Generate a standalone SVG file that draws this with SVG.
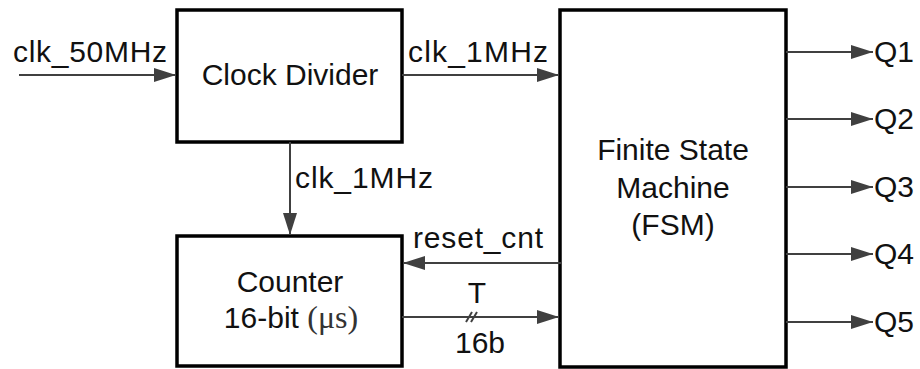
<svg xmlns="http://www.w3.org/2000/svg" width="920" height="369" viewBox="0 0 920 369">
<style>
.box{fill:#fff;stroke:#000;stroke-width:3.5}
.w{stroke:#404040;stroke-width:2;fill:none}
.t{font-family:"Liberation Sans",Arial,sans-serif;font-size:30px;fill:#111}
.m{text-anchor:middle}
.s{font-family:"Liberation Serif","Times New Roman",serif;font-size:32px;fill:#333}
</style>
<defs>
<marker id="ah" viewBox="0 0 22 14" refX="22" refY="7" markerWidth="22" markerHeight="14" markerUnits="userSpaceOnUse" orient="auto">
<path d="M0,0 L22,7 L0,14 Z" fill="#404040"/>
</marker>
</defs>
<rect width="920" height="369" fill="#fff"/>
<g id="clock_divider">
<rect class="box" x="177" y="10" width="225" height="132"/>
<text class="t m" x="290" y="85">Clock Divider</text>
</g>
<g id="counter">
<rect class="box" x="177" y="236" width="225" height="130"/>
<text class="t m" x="290" y="292">Counter</text>
<text class="t m" x="291" y="328">16-bit <tspan class="s">(μs)</tspan></text>
</g>
<g id="fsm">
<rect class="box" x="560" y="10" width="226" height="357"/>
<text class="t m" x="673" y="160">Finite State</text>
<text class="t m" x="673" y="198">Machine</text>
<text class="t m" x="673" y="235">(FSM)</text>
</g>
<g id="connectors">
<line class="w" x1="19" y1="75" x2="176" y2="75" marker-end="url(#ah)"/>
<text class="t" x="13" y="62" textLength="154">clk_50MHz</text>
<line class="w" x1="402" y1="75" x2="559" y2="75" marker-end="url(#ah)"/>
<text class="t" x="408" y="62" textLength="140">clk_1MHz</text>
<line class="w" x1="290" y1="142" x2="290" y2="235" marker-end="url(#ah)"/>
<text class="t" x="295" y="188" textLength="138">clk_1MHz</text>
<line class="w" x1="561" y1="263" x2="403" y2="263" marker-end="url(#ah)"/>
<text class="t" x="413" y="248" textLength="130">reset_cnt</text>
<line class="w" x1="402" y1="317" x2="559" y2="317" marker-end="url(#ah)"/>
<path class="w" d="M466,322 L472,312 M471,322 L477,312"/>
<text class="t m" x="477" y="303">T</text>
<text class="t m" x="480" y="353">16b</text>
<line class="w" x1="786" y1="52" x2="873" y2="52" marker-end="url(#ah)"/>
<line class="w" x1="786" y1="119" x2="873" y2="119" marker-end="url(#ah)"/>
<line class="w" x1="786" y1="187" x2="873" y2="187" marker-end="url(#ah)"/>
<line class="w" x1="786" y1="254" x2="873" y2="254" marker-end="url(#ah)"/>
<line class="w" x1="786" y1="322" x2="873" y2="322" marker-end="url(#ah)"/>
<text class="t" x="874" y="62">Q1</text>
<text class="t" x="874" y="129">Q2</text>
<text class="t" x="874" y="197">Q3</text>
<text class="t" x="874" y="264">Q4</text>
<text class="t" x="874" y="332">Q5</text>
</g>
</svg>
